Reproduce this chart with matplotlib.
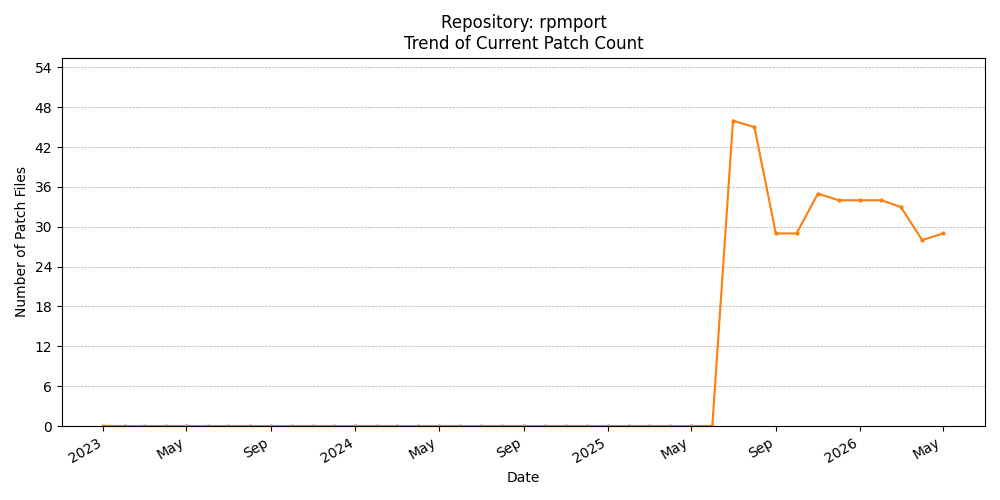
import matplotlib
matplotlib.use("Agg")
import matplotlib.pyplot as plt
import matplotlib.dates as mdates
import pandas as pd
import datetime as dt

dates = pd.date_range("2023-01-01", "2026-05-01", freq="MS")
zeros_count = 30  # 2023-01 .. 2025-06
later_values = [46, 45, 29, 29, 35, 34, 34, 34, 33, 28, 29]
values = [0] * zeros_count + later_values

fig, ax = plt.subplots(figsize=(10, 5), dpi=100)
ax.plot(dates, values, marker="o", markersize=2, color="#ff7f0e", linewidth=1.5)
ax.set_title("Repository: rpmport\nTrend of Current Patch Count")
ax.set_xlabel("Date")
ax.set_ylabel("Number of Patch Files")
ax.set_ylim(0, 55.5)
ax.set_yticks(range(0, 55, 6))
ax.set_xlim(dt.date(2022, 11, 2), dt.date(2026, 7, 1))
ax.xaxis.set_major_locator(mdates.MonthLocator(bymonth=[1, 5, 9]))
def fmt(x, pos=None):
    d = mdates.num2date(x)
    return str(d.year) if d.month == 1 else d.strftime("%b")
ax.xaxis.set_major_formatter(plt.FuncFormatter(fmt))
ax.grid(axis="y", linestyle="--", linewidth=0.5)
fig.autofmt_xdate()
fig.subplots_adjust(left=0.062, right=0.985, top=0.885, bottom=0.148)
fig.savefig("out.png")
